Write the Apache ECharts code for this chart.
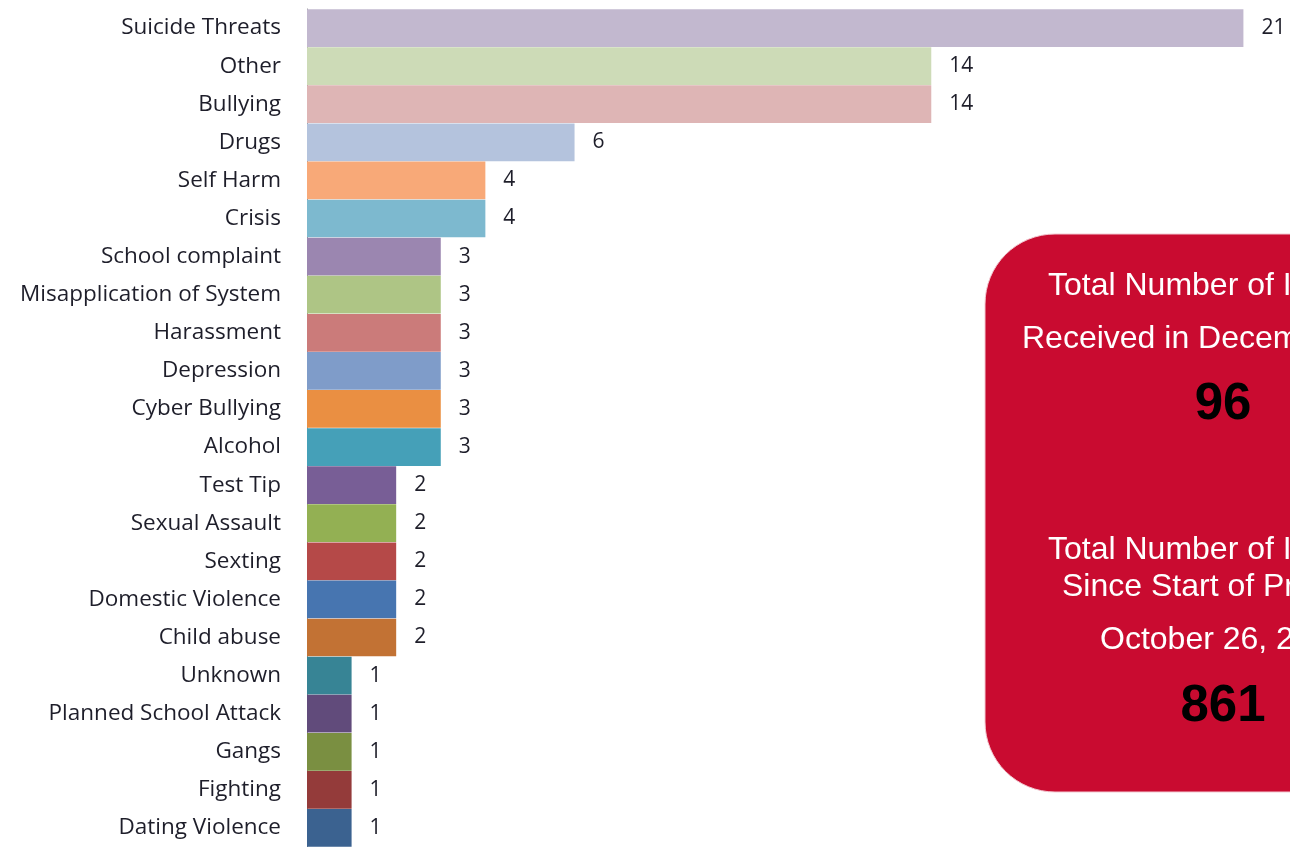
<!DOCTYPE html>
<html>
<head>
<meta charset="utf-8">
<script src="https://cdn.jsdelivr.net/npm/echarts@6/dist/echarts.min.js"></script>
<style>
  html, body { margin: 0; padding: 0; background: #fff; }
  #chart { width: 1290px; height: 847px; }
</style>
</head>
<body>
<div id="chart"></div>
<script>
// tip categories, top to bottom
const categories = [
  'Suicide Threats', 'Other', 'Bullying', 'Drugs', 'Self Harm', 'Crisis',
  'School complaint', 'Misapplication of System', 'Harassment', 'Depression',
  'Cyber Bullying', 'Alcohol', 'Test Tip', 'Sexual Assault', 'Sexting',
  'Domestic Violence', 'Child abuse', 'Unknown', 'Planned School Attack',
  'Gangs', 'Fighting', 'Dating Violence'
];
const tipCounts = [21, 14, 14, 6, 4, 4, 3, 3, 3, 3, 3, 3, 2, 2, 2, 2, 2, 1, 1, 1, 1, 1];

// one colour per bar
const barColors = [
  '#C2B8CF', '#CDDBB7', '#DEB5B5', '#B4C3DD', '#F8A978', '#7DB9CF',
  '#9B86B0', '#AEC585', '#CB7B7A', '#7F9CC9', '#EA8F42', '#45A0B8',
  '#785E96', '#93B053', '#B54948', '#4775B0', '#C27234', '#378495',
  '#614B7B', '#7A8F41', '#943B3A', '#3B6290'
];

// totals box
const monthTitle = ['Total Number of Incidents', 'Received in December 2013'];
const monthTotal = 96;
const programTitle = ['Total Number of Incidents', 'Since Start of Program', 'October 26, 2012'];
const programTotal = 861;

const chart = echarts.init(document.getElementById('chart'));

const whiteText = (text, x, y) => ({
  type: 'text', x: x, y: y, z: 20,
  style: { text: text, fill: '#fff', font: '32px "Liberation Sans", Arial, sans-serif',
           textAlign: 'left', textVerticalAlign: 'middle' }
});
const bigNumber = (text, y) => ({
  type: 'text', x: 1223, y: y, z: 20,
  style: { text: String(text), fill: '#000', font: 'bold 51px "Liberation Sans", Arial, sans-serif',
           textAlign: 'center', textVerticalAlign: 'middle' }
});

chart.setOption({
  animation: false,
  grid: { left: 307, top: 9, width: 981, height: 841 },
  xAxis: { type: 'value', min: 0, max: 22, show: false },
  yAxis: {
    type: 'category',
    data: categories,
    inverse: true,
    axisLine: { show: true, lineStyle: { color: '#8c8c8c', width: 1 } },
    axisTick: { show: false },
    axisLabel: {
      color: '#1e1e2a', fontSize: 22.5, margin: 26, padding: [3, 0, 0, 0],
      fontFamily: '"Open Sans", sans-serif'
    }
  },
  series: [{
    type: 'bar',
    data: tipCounts.map((v, i) => ({ value: v, itemStyle: { color: barColors[i] } })),
    barCategoryGap: '1%',
    label: {
      show: true, position: 'right', distance: 18,
      color: '#1e1e2a', fontSize: 21, fontFamily: '"Open Sans", sans-serif'
    }
  }],
  graphic: [
    {
      type: 'rect', z: 10,
      shape: { x: 985, y: 234, width: 420, height: 558, r: 70 },
      style: { fill: '#C90B30', stroke: '#f2c9d1', lineWidth: 1 }
    },
    whiteText(monthTitle[0], 1048, 286),
    whiteText(monthTitle[1], 1022, 339),
    bigNumber(monthTotal, 405),
    whiteText(programTitle[0], 1048, 550),
    whiteText(programTitle[1], 1062, 587),
    whiteText(programTitle[2], 1100, 640),
    bigNumber(programTotal, 707)
  ]
});
</script>
</body>
</html>
